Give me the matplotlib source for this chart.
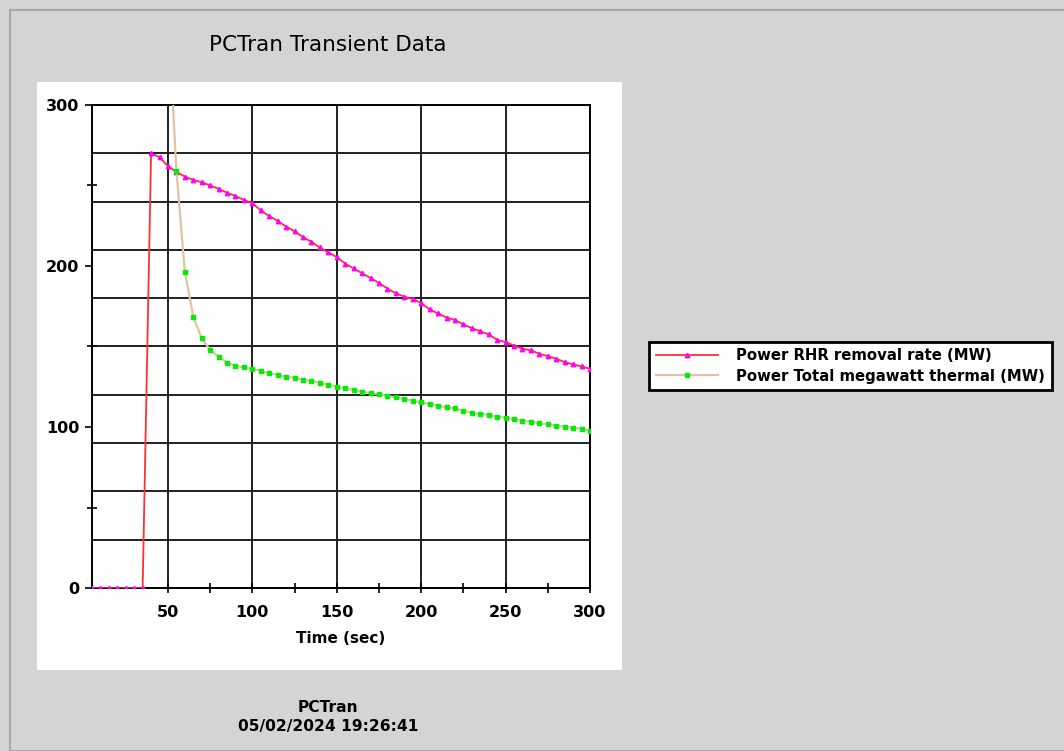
import numpy as np
import matplotlib.pyplot as plt
from matplotlib.patches import Rectangle

# time axis (sec), one sample every 5 s
t_rhr = list(range(5, 305, 5))
rhr = [0, 0, 0, 0, 0, 0, 0,
       270, 267.5, 262, 258.5, 255.5, 253.5, 252, 250, 248, 245.5,
       243.5, 241, 239, 234.5, 231, 228, 224.5, 221.5, 218, 215,
       211.5, 208.5, 205.5, 201.5, 198.5, 195.5, 192.5, 189.5, 186, 183,
       181, 179.5, 177, 173, 170.5, 168, 166.5, 163.7, 161.4, 159.5,
       157.5, 154.2, 152.7, 150.6, 148.6, 147.6, 145.5, 144, 142.4, 140.3,
       138.9, 137.6, 136.2]

t_mwt = list(range(50, 305, 5))
mwt = [360, 259, 196.5, 168.5, 155, 147.8, 143.7, 140, 138, 137,
       136, 135, 133.4, 132.3, 131.2, 130.6, 129.5, 128.5, 127.5, 126.3,
       125, 124, 123, 122, 121, 120.3, 119.3, 118.4, 117.4, 116.3,
       115.3, 114.3, 113.2, 112.2, 111.6, 110.1, 108.9, 108.1, 107.5, 106.4,
       105.8, 104.8, 103.9, 103.3, 102.3, 101.7, 100.8, 100.2, 99.6, 98.8,
       97.8]

W, H = 1064, 751
fig = plt.figure(figsize=(W/100, H/100), dpi=100, facecolor='#d4d4d4')

def fx(px):
    return px / W
def fy(py):
    return 1 - py / H

# window frame and white plot panel (behind the axes)
fig.patches.append(Rectangle((fx(10), 0), 1, fy(10), transform=fig.transFigure,
                             facecolor='none', edgecolor='#a8a8a8', lw=1.5, zorder=-2))
fig.patches.append(Rectangle((fx(37), fy(670)), fx(622-37), (670-82)/H,
                             transform=fig.transFigure, facecolor='white',
                             edgecolor='none', zorder=-1))

ax = fig.add_axes([fx(92), fy(588), fx(590-92), (588-105)/H])
ax.set_zorder(1)
ax.set_facecolor('white')

for g in range(30, 300, 30):
    ax.axhline(g, color='#202020', lw=1.4, zorder=1)
for g in range(50, 300, 50):
    ax.axvline(g, color='#202020', lw=1.4, zorder=1)

ax.plot(t_rhr, rhr, '-', color='#ff3030', lw=1.3, marker='^', ms=3.2,
        mfc='#ff00ff', mec='#ff00ff', label='Power RHR removal rate (MW)', zorder=3)
ax.plot(t_mwt, mwt, '-', color='#dcc4a4', lw=1.6, marker='s', ms=3.3,
        mfc='#00ee00', mec='#00ee00', label='Power Total megawatt thermal (MW)', zorder=4)

ax.set_xlim(5, 300)
ax.set_ylim(0, 300)
ax.set_xticks([50, 100, 150, 200, 250, 300])
ax.set_xticks([75, 125, 175, 225, 275], minor=True)
ax.set_yticks([0, 100, 200, 300])
ax.set_yticks([50, 150, 250], minor=True)
ax.tick_params(which='both', direction='inout', length=7, width=1.2, color='black',
               labelsize=11.5)
ax.tick_params(axis='x', which='major', pad=9)
ax.tick_params(axis='y', which='major', direction='out', length=5, pad=4)
for lab in ax.get_xticklabels() + ax.get_yticklabels():
    lab.set_fontweight('bold')
for s in ax.spines.values():
    s.set_linewidth(1.4)
    s.set_color('black')

ax.set_xlabel('Time (sec)', fontsize=11, fontweight='bold', labelpad=8)

fig.text(fx(328), fy(45), 'PCTran Transient Data', ha='center', va='center', fontsize=15.5)
fig.text(fx(328), fy(708), 'PCTran', ha='center', va='center', fontsize=11.2, fontweight='bold')
fig.text(fx(328), fy(727), '05/02/2024 19:26:41', ha='center', va='center',
         fontsize=11.2, fontweight='bold')

leg = fig.legend(loc='center left', bbox_to_anchor=(fx(649), fy(366)), fancybox=False,
                 framealpha=1, edgecolor='black', handlelength=4.2, handletextpad=1.2,
                 borderpad=0.45, labelspacing=0.35, borderaxespad=0, numpoints=1,
                 prop={'size': 10.7, 'weight': 'bold'})
leg.get_frame().set_linewidth(2)

plt.savefig('out.png', dpi=100, facecolor=fig.get_facecolor())
